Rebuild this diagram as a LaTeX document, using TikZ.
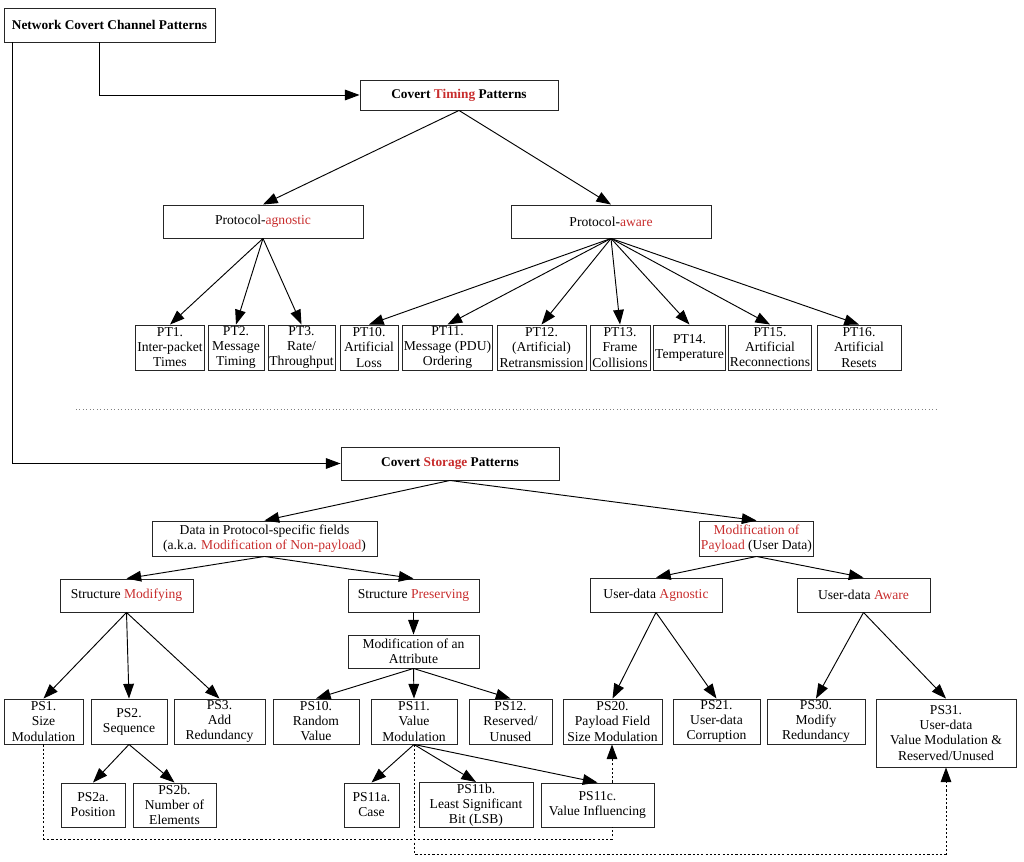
\documentclass[tikz,border=0pt]{standalone}
\usepackage{fontspec}
\setmainfont{Liberation Serif}
\usetikzlibrary{arrows.meta}
\definecolor{hlred}{RGB}{200,45,45}
\newcommand{\hlt}[1]{\textcolor{hlred}{#1}}

\begin{document}
\begin{tikzpicture}[x=0.75pt, y=-0.75pt,
    box/.style={draw=black!85, line width=0.7pt, align=center, inner sep=1pt, font=\fontsize{10.2}{11.3}\selectfont},
    dims/.style 2 args={minimum width=#1*0.75pt, minimum height=#2*0.75pt},
    arrow/.style={-{Triangle[length=11pt, width=8pt]}, line width=0.7pt},
    link/.style={arrow, dash pattern=on 1.6pt off 1.6pt},
    dashline/.style={line width=0.7pt, dash pattern=on 1.6pt off 1.6pt},
]
\useasboundingbox (0,0) rectangle (1024,862);

% top level
\node[box, dims={211}{34}, font=\bfseries\fontsize{10}{11.3}\selectfont] (nccp) at (109.5,25) {Network Covert Channel Patterns};

% timing part
\node[box, dims={198}{30}, font=\bfseries\fontsize{10}{11.3}\selectfont] (ctp) at (459,95) {Covert \hlt{Timing} Patterns};
\node[box, dims={200}{33}] (pagn) at (263,221.5) {Protocol-\hlt{agnostic}};
\node[box, dims={200}{33}] (pawr) at (611,221.5) {Protocol-\hlt{aware}};

\node[box, dims={67}{45}] (pt1) at (170,347.5) {PT1.\\Inter-packet\\Times};
\node[box, dims={56}{45}] (pt2) at (236,347.5) {PT2.\\Message\\Timing};
\node[box, dims={67}{45}] (pt3) at (301.5,347.5) {PT3.\\Rate/\\Throughput};
\node[box, dims={58}{45}] (pt10) at (369,347.5) {PT10.\\Artificial\\Loss};
\node[box, dims={89}{45}] (pt11) at (447.5,347.5) {PT11.\\Message (PDU)\\Ordering};
\node[box, dims={89}{45}] (pt12) at (541.5,347.5) {PT12.\\(Artificial)\\Retransmission};
\node[box, dims={60}{45}] (pt13) at (620,347.5) {PT13.\\Frame\\Collisions};
\node[box, dims={71}{45}] (pt14) at (689.5,347.5) {PT14.\\Temperature};
\node[box, dims={82}{45}] (pt15) at (770,347.5) {PT15.\\Artificial\\Reconnections};
\node[box, dims={84}{45}] (pt16) at (859,347.5) {PT16.\\Artificial\\Resets};

\draw[dotted, line width=0.6pt, gray] (76,409) -- (938,409);

% storage part
\node[box, dims={218}{33}, font=\bfseries\fontsize{10}{11.3}\selectfont] (csp) at (450,463.5) {Covert \hlt{Storage} Patterns};
\node[box, dims={225}{35}] (npl) at (264.5,538.5) {Data in Protocol-specific fields\\(a.k.a. \hlt{Modification of Non-payload})};
\node[box, dims={113}{35}] (pl) at (756.5,538.5) {\hlt{Modification of}\\\hlt{Payload} (User Data)};

\node[box, dims={133}{33}] (smod) at (126.5,595.5) {Structure \hlt{Modifying}};
\node[box, dims={131}{33}] (spre) at (413.5,595.5) {Structure \hlt{Preserving}};
\node[box, dims={132}{34}] (uagn) at (656,595) {User-data \hlt{Agnostic}};
\node[box, dims={133}{34}] (uawr) at (863.5,595) {User-data \hlt{Aware}};
\node[box, dims={131}{33}] (attr) at (413.5,651.5) {Modification of an\\Attribute};

\node[box, dims={79}{45}] (ps1) at (43.5,721.5) {PS1.\\Size\\Modulation};
\node[box, dims={76}{45}] (ps2) at (129,721.5) {PS2.\\Sequence};
\node[box, dims={91}{45}] (ps3) at (219.5,721.5) {PS3.\\Add\\Redundancy};
\node[box, dims={86}{45}] (ps10) at (316,721.5) {PS10.\\Random\\Value};
\node[box, dims={86}{45}] (ps11) at (414,721.5) {PS11.\\Value\\Modulation};
\node[box, dims={83}{45}] (ps12) at (510.5,721.5) {PS12.\\Reserved/\\Unused};
\node[box, dims={99}{45}] (ps20) at (612.5,721.5) {PS20.\\Payload Field\\Size Modulation};
\node[box, dims={87}{45}] (ps21) at (716.5,721.5) {PS21.\\User-data\\Corruption};
\node[box, dims={98}{45}] (ps30) at (816,721.5) {PS30.\\Modify\\Redundancy};
\node[box, dims={140}{68}] (ps31) at (946,733) {PS31.\\User-data\\Value Modulation \&\\Reserved/Unused};

\node[box, dims={64}{44}] (ps2a) at (93,805) {PS2a.\\Position};
\node[box, dims={83}{44}] (ps2b) at (174.5,805) {PS2b.\\Number of\\Elements};
\node[box, dims={55}{44}] (ps11a) at (371.5,805) {PS11a.\\Case};
\node[box, dims={114}{44}] (ps11b) at (476,805) {PS11b.\\Least Significant\\Bit (LSB)};
\node[box, dims={113}{44}] (ps11c) at (597.5,805) {PS11c.\\Value Influencing};

% elbows from the root
\coordinate (tbend) at (99,95);
\coordinate (sbend) at (12,463.5);
\draw[arrow] (nccp.south -| tbend) -- (tbend) -- (ctp.west);
\draw[arrow] (nccp.south -| sbend) -- (sbend) -- (csp.west);

\draw[arrow] (ctp.south) -- (pagn.north);
\draw[arrow] (ctp.south) -- (pawr.north);
\draw[arrow] (pagn.south) -- (pt1.north);
\draw[arrow] (pagn.south) -- (pt2.north);
\draw[arrow] (pagn.south) -- (pt3.north);
\draw[arrow] (pawr.south) -- (pt10.north);
\draw[arrow] (pawr.south) -- (pt11.north);
\draw[arrow] (pawr.south) -- (pt12.north);
\draw[arrow] (pawr.south) -- (pt13.north);
\draw[arrow] (pawr.south) -- (pt14.north);
\draw[arrow] (pawr.south) -- (pt15.north);
\draw[arrow] (pawr.south) -- (pt16.north);

\draw[arrow] (csp.south) -- (npl.north);
\draw[arrow] (csp.south) -- (pl.north);
\draw[arrow] (npl.south) -- (smod.north);
\draw[arrow] (npl.south) -- (spre.north);
\draw[arrow] (pl.south) -- (uagn.north);
\draw[arrow] (pl.south) -- (uawr.north);
\draw[arrow] (spre.south) -- (attr.north);
\draw[arrow] (smod.south) -- (ps1.north);
\draw[arrow] (smod.south) -- (ps2.north);
\draw[arrow] (smod.south) -- (ps3.north);
\draw[arrow] (attr.south) -- (ps10.north);
\draw[arrow] (attr.south) -- (ps11.north);
\draw[arrow] (attr.south) -- (ps12.north);
\draw[arrow] (uagn.south) -- (ps20.north);
\draw[arrow] (uagn.south) -- (ps21.north);
\draw[arrow] (uawr.south) -- (ps30.north);
\draw[arrow] (uawr.south) -- (ps31.north);
\draw[arrow] (ps2.south) -- (ps2a.north);
\draw[arrow] (ps2.south) -- (ps2b.north);
\draw[arrow] (ps11.south) -- (ps11a.north);
\draw[arrow] (ps11.south) -- (ps11b.north);
\draw[arrow] (ps11.south) -- (ps11c.north);

% dotted cross links
\coordinate (d1) at (43.5,839);
\coordinate (d2) at (612,839);
\coordinate (d3) at (414,854);
\coordinate (d4) at (946,854);
\draw[dashline] (ps1.south) -- (d1) -- (d2) -- (d2 |- ps11c.south);
\draw[link] (ps11c.north -| d2) -- (ps20.south -| d2);
\draw[link] (ps11.south) -- (d3) -- (d4) -- (ps31.south);

\end{tikzpicture}
\end{document}
